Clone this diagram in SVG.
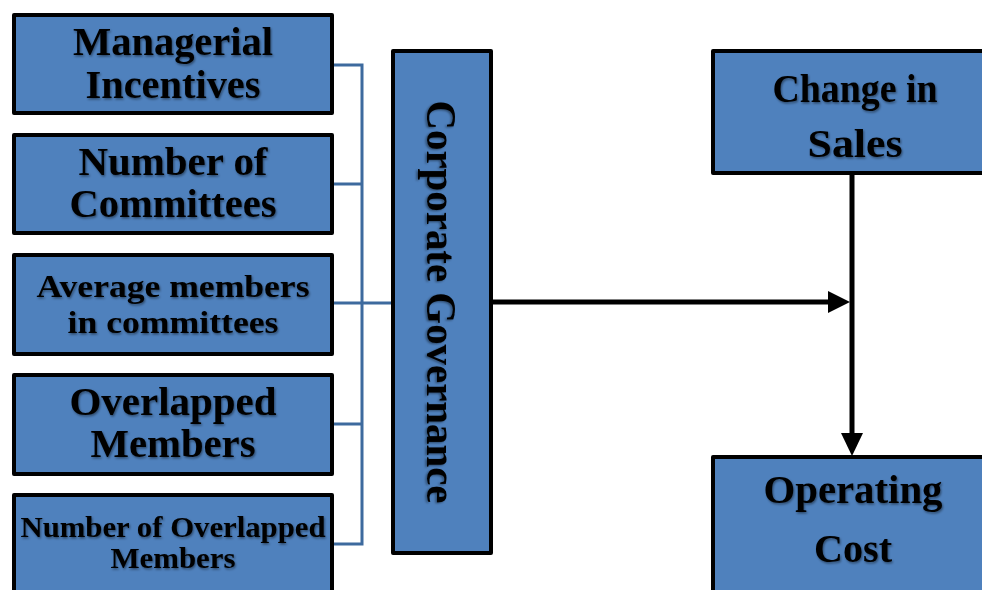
<svg xmlns="http://www.w3.org/2000/svg" width="982" height="590" viewBox="0 0 982 590">
<defs>
<style>
.box{fill:#4F81BD;stroke:#000;stroke-width:4;stroke-linejoin:round}
.t{font-family:"Liberation Serif","Times New Roman",serif;font-weight:bold;fill:#000;text-anchor:middle;filter:url(#sh)}
.bl{stroke:#3D6A9E;stroke-width:3;fill:none}
.bk{stroke:#000;stroke-width:5;fill:none}
</style>
<filter id="sh" x="-10%" y="-30%" width="120%" height="160%">
<feDropShadow dx="1" dy="1.5" stdDeviation="1" flood-color="#000" flood-opacity="0.45"/>
</filter>
</defs>
<rect width="982" height="590" fill="#fff"/>
<g id="connectors">
<path class="bl" d="M333,65 H362 M333,184 H362 M333,303 H362 M333,424 H362 M333,544 H362 M362,63.5 V545.5 M362,303 H393"/>
<path class="bk" d="M492,302 H832"/>
<path d="M828,291 L850,302 L828,313 Z" fill="#000"/>
<path class="bk" d="M852,173 V436"/>
<path d="M841,433 L852,456 L863,433 Z" fill="#000"/>
</g>
<g id="managerial-incentives">
<rect class="box" x="14" y="15" width="318" height="98"/>
<text class="t" x="173" y="55" font-size="39" textLength="200" lengthAdjust="spacingAndGlyphs">Managerial</text>
<text class="t" x="173" y="98" font-size="39" textLength="175" lengthAdjust="spacingAndGlyphs">Incentives</text>
</g>
<g id="number-of-committees">
<rect class="box" x="14" y="135" width="318" height="98"/>
<text class="t" x="173" y="175" font-size="39" textLength="189" lengthAdjust="spacingAndGlyphs">Number of</text>
<text class="t" x="173" y="217" font-size="39" textLength="207" lengthAdjust="spacingAndGlyphs">Committees</text>
</g>
<g id="average-members">
<rect class="box" x="14" y="255" width="318" height="99"/>
<text class="t" x="173" y="297" font-size="32" textLength="273" lengthAdjust="spacingAndGlyphs">Average members</text>
<text class="t" x="173" y="333" font-size="32" textLength="211" lengthAdjust="spacingAndGlyphs">in committees</text>
</g>
<g id="overlapped-members">
<rect class="box" x="14" y="375" width="318" height="99"/>
<text class="t" x="173" y="415" font-size="39" textLength="207" lengthAdjust="spacingAndGlyphs">Overlapped</text>
<text class="t" x="173" y="457" font-size="39" textLength="165" lengthAdjust="spacingAndGlyphs">Members</text>
</g>
<g id="number-overlapped-members">
<rect class="box" x="14" y="495" width="318" height="110"/>
<text class="t" x="173" y="537" font-size="29" textLength="305" lengthAdjust="spacingAndGlyphs">Number of Overlapped</text>
<text class="t" x="173" y="568" font-size="29" textLength="125" lengthAdjust="spacingAndGlyphs">Members</text>
</g>
<g id="corporate-governance">
<rect class="box" x="393" y="51" width="98" height="502"/>
<text class="t" transform="translate(427,302) rotate(90)" x="0" y="0" font-size="43" textLength="403" lengthAdjust="spacingAndGlyphs">Corporate Governance</text>
</g>
<g id="change-in-sales">
<rect class="box" x="713" y="51" width="290" height="122"/>
<text class="t" x="855" y="102" font-size="39" textLength="165" lengthAdjust="spacingAndGlyphs">Change in</text>
<text class="t" x="855" y="157" font-size="39" textLength="95" lengthAdjust="spacingAndGlyphs">Sales</text>
</g>
<g id="operating-cost">
<rect class="box" x="713" y="457" width="290" height="150"/>
<text class="t" x="853" y="503" font-size="39" textLength="179" lengthAdjust="spacingAndGlyphs">Operating</text>
<text class="t" x="853" y="562" font-size="39" textLength="78" lengthAdjust="spacingAndGlyphs">Cost</text>
</g>
</svg>
